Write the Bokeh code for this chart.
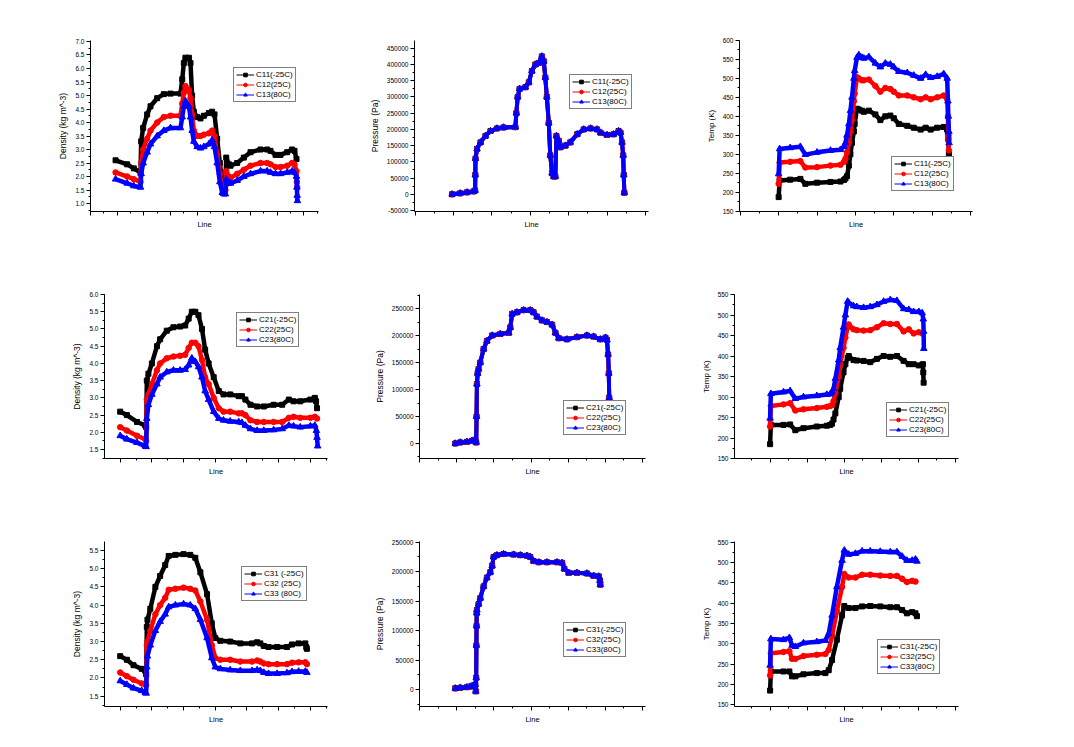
from bokeh.plotting import figure
from bokeh.layouts import column, row
from bokeh.models import (FixedTicker, Legend, LegendItem, NumeralTickFormatter,
                          Range1d, CustomJSTickFormatter)
from bokeh.embed import file_html
from bokeh.resources import INLINE

# ---------------- DATA ----------------
# Row 1 : case C1x
den1_x = [-0.6, 3.75, 6.25, 8.75, 9, 9.75, 11.25, 12.5, 15, 17.5, 20, 23.75, 24.4, 25, 25.6,
          26.9, 27.5, 28.1, 28.75, 30, 31.25, 32.5, 34.4, 35.6, 36.5, 37.5, 38.5, 39.4, 40,
          40.6, 40.9, 41.9, 42.5, 45, 47.5, 50, 53.75, 56.25, 57.5, 59.4, 61.25, 63.75, 65.6,
          66.5, 67.25]
den1_c11 = [2.6, 2.45, 2.3, 2.15, 3.3, 3.8, 4.3, 4.6, 4.9, 5.05, 5.07, 5.07, 5.6, 6.2, 6.4,
            6.4, 6.2, 5.0, 4.4, 4.2, 4.15, 4.25, 4.35, 4.4, 4.3, 3.4, 2.5, 1.8, 1.7, 1.7, 2.7,
            2.45, 2.4, 2.5, 2.7, 2.9, 3.0, 3.0, 2.95, 2.8, 2.8, 2.9, 3.0, 2.95, 2.65]
den1_c12 = [2.15, 2.0, 1.9, 1.8, 2.5, 3.0, 3.4, 3.7, 4.0, 4.2, 4.25, 4.25, 4.7, 5.1, 5.35,
            5.2, 4.9, 4.3, 3.7, 3.5, 3.5, 3.55, 3.6, 3.7, 3.5, 2.8, 2.1, 1.6, 1.45, 1.5, 2.2,
            2.0, 1.95, 2.1, 2.25, 2.4, 2.5, 2.5, 2.45, 2.35, 2.35, 2.4, 2.5, 2.45, 2.2, 1.8, 1.6]
den1_c13 = [1.9, 1.75, 1.65, 1.6, 2.1, 2.5, 2.9, 3.2, 3.5, 3.7, 3.8, 3.8, 4.2, 4.6, 4.8,
            4.6, 4.2, 3.7, 3.3, 3.1, 3.05, 3.1, 3.2, 3.35, 3.1, 2.5, 1.8, 1.4, 1.35, 1.35, 1.9,
            1.75, 1.75, 1.85, 2.0, 2.1, 2.2, 2.2, 2.15, 2.1, 2.1, 2.15, 2.2, 2.15, 2.0, 1.6,
            1.3, 1.1]
den1_x12 = den1_x + [67.4, 67.5]
den1_x13 = den1_x + [67.4, 67.5, 67.6]

pre1_x = [-0.4, 1.7, 3.5, 5.2, 5.6, 5.65, 5.7, 6.1, 7.0, 8.3, 9.6, 11.3, 13.0, 16.1, 16.35,
          16.7, 17.2, 18.7, 19.6, 20.4, 21.3, 22.2, 23.0, 23.5, 23.9, 24.3, 24.8, 25.2, 25.65,
          26.1, 26.5, 26.8, 27.4, 27.8, 29.1, 30.4, 32.2, 33.9, 35.7, 37.4, 38.3, 40.0, 41.7,
          43.0, 43.5, 43.9, 44.2, 44.35, 44.5]
pre1_pa = [0, 3000, 6000, 9000, 12000, 60000, 110000, 140000, 160000, 180000, 195000, 203000,
           206000, 207000, 250000, 300000, 325000, 330000, 345000, 380000, 400000, 405000,
           425000, 410000, 360000, 300000, 220000, 120000, 65000, 55000, 55000, 180000, 165000,
           145000, 150000, 160000, 185000, 200000, 203000, 200000, 190000, 183000, 185000,
           195000, 190000, 160000, 120000, 60000, 5000]

tmp1_x = [0, 0.26, 3.0, 5.65, 6.96, 10.0, 13.5, 16.1, 17.0, 17.4, 17.8, 18.3, 18.7, 19.1, 19.6,
          19.8, 20.4, 20.9, 21.7, 22.2, 23.5, 25.2, 26.5, 27.8, 29.1, 30.0, 31.3, 33.5, 35.2,
          37.0, 38.3, 39.6, 41.3, 43.0, 43.9, 44.1, 44.2, 44.35]
tmp1_c11 = [187, 231, 233, 235, 222, 225, 227, 228, 232, 236, 242, 270, 300, 330, 360, 380,
            420, 418, 415, 412, 415, 405, 390, 400, 402, 395, 380, 375, 370, 365, 370, 365,
            370, 372, 365, 355, 340, 300]
tmp1_c12 = [222, 278, 280, 282, 265, 266, 270, 272, 280, 288, 305, 330, 360, 390, 440, 460,
            503, 500, 495, 495, 497, 480, 465, 475, 472, 465, 455, 455, 450, 445, 450, 445,
            450, 455, 445, 400, 350, 310]
tmp1_c13 = [248, 314, 317, 320, 299, 305, 310, 312, 320, 330, 350, 380, 415, 450, 500, 520,
            555, 562, 555, 553, 557, 540, 530, 540, 537, 530, 518, 515, 508, 500, 510, 502,
            505, 512, 500, 440, 400, 360, 330]
tmp1_x13 = tmp1_x + [44.4]

# Row 2 : case C2x
den2_x = [0, 2.1, 5.3, 7.9, 8.2, 8.4, 8.9, 10, 11.6, 12.6, 14.7, 16.8, 18.9, 20.5, 21.6, 22.6,
          23.7, 24.7, 25.8, 26.8, 27.9, 29.5, 31.1, 32.6, 34.7, 37.4, 38.4, 39.5, 41.1, 43.2,
          45.3, 48.4, 51.1, 53.2, 54.7, 56.8, 60, 61.4]
den2_c21 = [2.6, 2.5, 2.3, 2.2, 2.15, 3.5, 3.7, 4.0, 4.5, 4.7, 4.95, 5.05, 5.07, 5.1, 5.3,
            5.5, 5.5, 5.4, 5.0, 4.4, 4.0, 3.6, 3.2, 3.1, 3.1, 3.05, 3.05, 2.95, 2.8, 2.75,
            2.75, 2.8, 2.8, 2.95, 2.9, 2.9, 2.95, 3.0, 2.9, 2.7]
den2_c22 = [2.15, 2.05, 1.9, 1.8, 1.75, 2.95, 3.1, 3.4, 3.8, 4.0, 4.15, 4.2, 4.22, 4.25, 4.45,
            4.6, 4.6, 4.5, 4.1, 3.6, 3.4, 3.0, 2.7, 2.6, 2.6, 2.55, 2.55, 2.5, 2.35, 2.3,
            2.3, 2.3, 2.3, 2.42, 2.45, 2.42, 2.42, 2.45, 2.4]
den2_c23 = [1.9, 1.8, 1.7, 1.6, 1.58, 2.4, 2.8, 3.1, 3.4, 3.6, 3.75, 3.8, 3.8, 3.82, 3.95,
            4.15, 4.05, 3.9, 3.6, 3.2, 2.95, 2.6, 2.4, 2.35, 2.32, 2.3, 2.28, 2.2, 2.1, 2.05,
            2.05, 2.07, 2.1, 2.2, 2.18, 2.15, 2.18, 2.2, 2.05, 1.85, 1.6]
den2_x21 = den2_x + [61.8, 62.1]
den2_x22 = den2_x + [62.1]
den2_x23 = den2_x + [61.9, 62.1, 62.3]

pre2_x = [-0.45, 0.9, 2.7, 4.05, 4.95, 5.2, 5.3, 5.4, 5.6, 5.85, 6.3, 7.2, 8.1, 9.5, 11.7,
          14.0, 14.4, 14.9, 16.2, 18.0, 19.8, 20.7, 21.6, 23.0, 24.3, 25.7, 26.6, 27.5, 29.7,
          32.4, 35.1, 36.9, 38.7, 40.1, 40.5, 40.8, 41.0, 41.1]
pre2_pa = [0, 2000, 3000, 5000, 7000, 2000, 50000, 110000, 130000, 138000, 150000, 175000,
           190000, 200000, 203000, 205000, 215000, 240000, 243000, 247000, 247000, 243000,
           235000, 228000, 225000, 220000, 205000, 195000, 193000, 197000, 200000, 198000,
           193000, 196000, 192000, 165000, 130000, 85000]

tmp2_x = [0, 0.2, 3.6, 5.4, 6.8, 9.0, 12.6, 15.3, 16.2, 16.7, 17.1, 17.6, 18.5, 18.9, 19.8,
          20.3, 20.9, 21.2, 22.5, 23.4, 25.2, 27.0, 28.8, 30.6, 32.4, 34.2, 36.0, 37.4, 38.7,
          40.1, 41.0]
tmp2_c21 = [185, 232, 232, 233, 219, 224, 228, 230, 232, 235, 245, 260, 300, 320, 360, 380,
            395, 400, 390, 389, 388, 385, 393, 400, 398, 400, 388, 380, 380, 377, 378, 380,
            360, 335]
tmp2_c22 = [228, 278, 282, 285, 267, 270, 273, 276, 278, 280, 290, 310, 350, 380, 420, 445,
            470, 477, 465, 463, 462, 463, 470, 480, 478, 478, 460, 465, 455, 458, 455]
tmp2_c23 = [248, 308, 312, 315, 296, 300, 303, 306, 307, 312, 320, 345, 390, 420, 470, 500,
            533, 530, 522, 520, 518, 520, 525, 533, 537, 535, 515, 513, 508, 508, 505, 490,
            460, 418]
tmp2_x21 = tmp2_x + [41.2, 41.3, 41.4]
tmp2_x23 = tmp2_x + [41.3, 41.4, 41.45]

# Row 3 : case C3x
den3_x = [0, 2.1, 4.2, 6.8, 7.9, 8.2, 8.4, 8.6, 9.5, 11.1, 12.6, 14.2, 15.3, 17.4, 20.0, 22.1,
          23.7, 25.3, 27.4, 28.9, 30.0, 31.6, 34.7, 37.9, 41.6, 43.2, 44.2, 45.3, 46.8, 49.5,
          52.6, 54.2, 56.3, 58.4]
den3_c31 = [2.6, 2.5, 2.35, 2.25, 2.2, 2.1, 3.4, 3.6, 3.9, 4.5, 4.8, 5.1, 5.35, 5.38, 5.4,
            5.38, 5.3, 4.9, 4.3, 3.5, 3.1, 3.02, 3.0, 2.95, 2.95, 2.98, 2.95, 2.88, 2.85, 2.85,
            2.85, 2.92, 2.95, 2.95, 2.85, 2.8]
den3_c32 = [2.15, 2.05, 1.95, 1.85, 1.82, 1.8, 2.9, 3.0, 3.3, 3.75, 4.0, 4.2, 4.42, 4.45,
            4.48, 4.45, 4.4, 4.1, 3.6, 2.9, 2.55, 2.5, 2.5, 2.45, 2.45, 2.48, 2.45, 2.4, 2.38,
            2.38, 2.38, 2.42, 2.43, 2.43, 2.38]
den3_c33 = [1.92, 1.82, 1.72, 1.65, 1.6, 1.58, 2.3, 2.6, 2.9, 3.3, 3.55, 3.75, 3.95, 4.0,
            4.03, 4.0, 3.9, 3.6, 3.1, 2.55, 2.3, 2.25, 2.22, 2.2, 2.2, 2.22, 2.2, 2.15, 2.12,
            2.12, 2.14, 2.17, 2.18, 2.18, 2.15]
den3_x31 = den3_x + [58.7, 58.9]
den3_x32 = den3_x + [58.9]
den3_x33 = den3_x + [58.9]

pre3_x = [-0.45, 0.9, 2.7, 3.6, 4.5, 4.95, 5.1, 5.2, 5.25, 5.3, 5.35, 5.4, 5.85, 6.3, 7.2, 8.1,
          9.0, 9.5, 9.9, 10.8, 12.6, 15.3, 17.1, 18.9, 19.8, 20.7, 22.1, 24.3, 27.0, 28.4,
          29.0, 30.2, 32.4, 35.1, 36.9, 38.3, 38.6, 38.7]
pre3_pa = [2000, 3000, 4000, 5000, 7000, 8000, -3000, 20000, 75000, 108000, 130000, 135000,
           145000, 155000, 175000, 190000, 199000, 210000, 225000, 228000, 230000, 229000,
           228000, 227000, 225000, 218000, 216000, 216000, 216000, 215000, 205000, 198000,
           198000, 197000, 193000, 192000, 185000, 178000]

tmp3_x = [0, 0.2, 3.6, 5.2, 5.9, 6.8, 9.0, 12.6, 14.9, 15.8, 16.7, 18.0, 19.4, 20.0, 21.2,
          23.0, 24.8, 27.0, 29.7, 32.4, 34.2, 35.6, 36.9, 38.3, 39.2]
tmp3_c31 = [185, 232, 232, 232, 220, 220, 225, 228, 228, 235, 260, 310, 370, 393, 388, 388,
            392, 393, 392, 390, 390, 383, 375, 378, 375, 368]
tmp3_c32 = [222, 277, 280, 282, 263, 263, 270, 273, 275, 285, 320, 380, 440, 472, 463, 463,
            470, 470, 468, 467, 467, 460, 452, 455, 453]
tmp3_c33 = [247, 312, 310, 315, 296, 293, 302, 305, 308, 325, 370, 440, 505, 530, 520, 522,
            528, 528, 527, 526, 526, 515, 505, 505, 508, 503]
tmp3_x31 = tmp3_x + [39.6]
tmp3_x33 = tmp3_x + [39.6]

# Legend labels
labels1 = ["C11(-25C)", "C12(25C)", "C13(80C)"]
labels2 = ["C21(-25C)", "C22(25C)", "C23(80C)"]
labels3a = ["C31 (-25C)", "C32 (25C)", "C33 (80C)"]
labels3 = ["C31(-25C)", "C32(25C)", "C33(80C)"]

# ---------------- STYLE ----------------
FONT = "Liberation Sans"
COLORS = ["#000000", "#ff0000", "#0000ff"]
MARKERS = ["square", "circle", "triangle"]
MSIZE = [5, 5.5, 6.5]


def make_panel(width, height, borders, xr, yr, yticks, yminor, xmax_tick, ylabel, yfmt,
               series, labels, legend_loc, ylabel_size, lw):
    left, right, top, bottom = borders
    p = figure(width=width, height=height, output_backend="svg", toolbar_location=None,
               x_range=Range1d(*xr), y_range=Range1d(*yr),
               min_border_left=left, min_border_right=right,
               min_border_top=top, min_border_bottom=bottom)
    p.outline_line_color = None
    p.xgrid.visible = False
    p.ygrid.visible = False
    p.background_fill_color = "white"
    p.border_fill_color = "white"

    # x axis: ticks only, no tick labels
    xmaj = list(range(-10, xmax_tick + 1, 10))
    xmin = [v + 5 for v in xmaj]
    p.xaxis.ticker = FixedTicker(ticks=xmaj, minor_ticks=xmin)
    p.xaxis.formatter = CustomJSTickFormatter(code="return ''")
    p.xaxis.major_label_text_font_size = "2px"
    p.xaxis.major_label_standoff = 0
    p.xaxis.axis_label = "Line"
    p.xaxis.axis_label_text_font = FONT
    p.xaxis.axis_label_text_font_style = "normal"
    p.xaxis.axis_label_text_font_size = "7.5px"
    p.xaxis.axis_label_text_color = "black"
    p.xaxis.axis_label_standoff = 4

    p.yaxis.ticker = FixedTicker(ticks=yticks, minor_ticks=yminor)
    p.yaxis.formatter = yfmt
    p.yaxis.major_label_text_font = FONT
    p.yaxis.major_label_text_font_size = "6.5px"
    p.yaxis.major_label_text_color = "black"
    p.yaxis.major_label_standoff = 2
    p.yaxis.axis_label = ylabel
    p.yaxis.axis_label_text_font = FONT
    p.yaxis.axis_label_text_font_style = "normal"
    p.yaxis.axis_label_text_font_size = ylabel_size
    p.yaxis.axis_label_text_color = "black"
    p.yaxis.axis_label_standoff = 4

    for ax in (p.xaxis, p.yaxis):
        ax.axis_line_color = "black"
        ax.major_tick_line_color = "black"
        ax.minor_tick_line_color = "black"
        ax.major_tick_out = 4
        ax.major_tick_in = 0
        ax.minor_tick_out = 2
        ax.minor_tick_in = 0

    items = []
    for (xs, ys), c, m, s, lab in zip(series, COLORS, MARKERS, MSIZE, labels):
        p.line(xs, ys, line_color=c, line_width=lw)
        thin = p.line(xs, ys, line_color=c, line_width=1)
        sc = p.scatter(xs, ys, marker=m, size=s, fill_color=c, line_color=c)
        items.append(LegendItem(label=lab, renderers=[thin, sc]))
    legend = Legend(items=items, location=legend_loc)
    legend.border_line_color = "black"
    legend.border_line_width = 1
    legend.background_fill_color = "white"
    legend.background_fill_alpha = 1
    legend.label_text_font = FONT
    legend.label_text_font_size = "8px"
    legend.label_text_color = "black"
    legend.glyph_width = 18
    legend.glyph_height = 9
    legend.label_height = 9
    legend.spacing = 1
    legend.padding = 2
    legend.margin = 0
    legend.label_standoff = 2
    p.add_layout(legend)
    return p


den_fmt = lambda: NumeralTickFormatter(format="0.0")
pre_fmt = lambda: NumeralTickFormatter(format="0")
tmp_fmt = lambda: NumeralTickFormatter(format="0")

den_ticks = [v / 2 for v in range(2, 15)]
den_minor = [v / 4 for v in range(2, 30)]
pre_ticks = list(range(-50000, 450001, 50000))
pre_minor = list(range(-50000, 475001, 25000))
tmp_ticks = list(range(150, 601, 50))
tmp_minor = list(range(150, 601, 25))

DEN_LBL, PRE_LBL, TMP_LBL = "8.5px", "8.5px", "8px"

p1 = make_panel(355, 250, (90, 37, 40, 39), (-10, 75.5), (0.704, 7.037), den_ticks, den_minor,
                70, "Density (kg m^-3)", den_fmt(),
                [(den1_x, den1_c11), (den1_x12, den1_c12), (den1_x13, den1_c13)],
                labels1, (143, 109), DEN_LBL, 4.5)
p2 = make_panel(335, 250, (59, 42, 40, 39), (-10.2, 50.8), (-53000, 474000), pre_ticks, pre_minor,
                50, "Pressure (Pa)", pre_fmt(),
                [(pre1_x, pre1_pa), (pre1_x, pre1_pa), (pre1_x, pre1_pa)],
                labels1, (155, 102), PRE_LBL, 4)
p3 = make_panel(315, 250, (49, 33, 40, 39), (-10.2, 50.5), (149, 600), tmp_ticks, tmp_minor,
                50, "Temp (K)", tmp_fmt(),
                [(tmp1_x, tmp1_c11), (tmp1_x, tmp1_c12), (tmp1_x13, tmp1_c13)],
                labels1, (152, 20), TMP_LBL, 4.5)

p4 = make_panel(355, 245, (104, 28, 44, 37), (-4.95, 65.4), (1.24, 6.0), den_ticks, den_minor,
                60, "Density (kg m^-3)", den_fmt(),
                [(den2_x21, den2_c21), (den2_x22, den2_c22), (den2_x23, den2_c23)],
                labels2, (132, 111), DEN_LBL, 4.5)
p5 = make_panel(335, 245, (64, 45, 44, 37), (-10.1, 50.9), (-27800, 276000), pre_ticks, pre_minor,
                50, "Pressure (Pa)", pre_fmt(),
                [(pre2_x, pre2_pa), (pre2_x, pre2_pa), (pre2_x, pre2_pa)],
                labels2, (144, 23), PRE_LBL, 4)
p6 = make_panel(315, 245, (44, 47, 44, 37), (-9.6, 50.8), (150, 550), tmp_ticks, tmp_minor,
                50, "Temp (K)", tmp_fmt(),
                [(tmp2_x21, tmp2_c21), (tmp2_x, tmp2_c22), (tmp2_x23, tmp2_c23)],
                labels2, (152, 21), TMP_LBL, 4.5)

p7 = make_panel(355, 243, (104, 28, 46, 32), (-4.95, 65.4), (1.217, 5.747), den_ticks, den_minor,
                60, "Density (kg m^-3)", den_fmt(),
                [(den3_x31, den3_c31), (den3_x32, den3_c32), (den3_x33, den3_c33)],
                labels3a, (137, 105), DEN_LBL, 4.5)
p8 = make_panel(335, 243, (64, 45, 46, 32), (-10.1, 50.9), (-28800, 251200), pre_ticks, pre_minor,
                50, "Pressure (Pa)", pre_fmt(),
                [(pre3_x, pre3_pa), (pre3_x, pre3_pa), (pre3_x, pre3_pa)],
                labels3, (144, 49), PRE_LBL, 4)
p9 = make_panel(315, 243, (44, 47, 46, 32), (-9.6, 50.8), (145.8, 551.7), tmp_ticks, tmp_minor,
                50, "Temp (K)", tmp_fmt(),
                [(tmp3_x31, tmp3_c31), (tmp3_x, tmp3_c32), (tmp3_x33, tmp3_c33)],
                labels3, (143, 32), TMP_LBL, 4.5)

layout = column(row(p1, p2, p3), row(p4, p5, p6), row(p7, p8, p9))
open("out.html", "w").write(file_html(layout, INLINE))
